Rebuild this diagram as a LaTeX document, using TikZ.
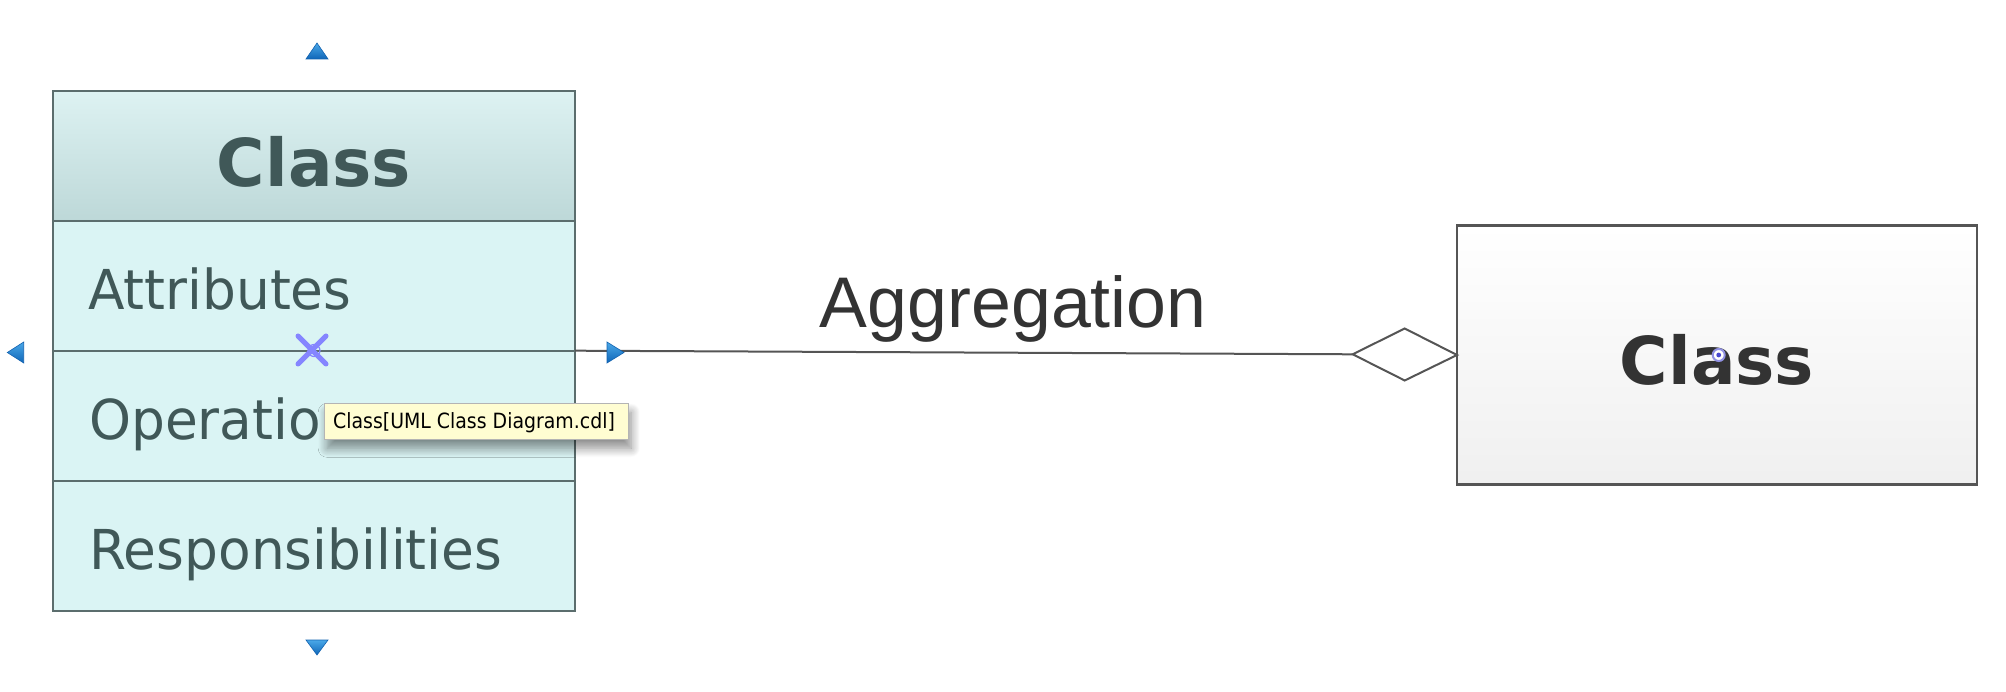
\documentclass[tikz,border=0pt]{standalone}
\usepackage{fontspec}
\usetikzlibrary{shadows.blur}
\newfontfamily\dvfont{DejaVu Sans}
\newfontfamily\itemfont[FakeStretch=0.97]{DejaVu Sans}
\newfontfamily\tipfont[FakeStretch=0.9]{DejaVu Sans}
\newfontfamily\arialfont{Liberation Sans}
\definecolor{boxline}{HTML}{5B6D6D}
\definecolor{bodyfill}{HTML}{DAF4F4}
\definecolor{headtop}{HTML}{DDF2F2}
\definecolor{headbot}{HTML}{BDD8D8}
\definecolor{slatetext}{HTML}{405858}
\definecolor{darktext}{HTML}{333333}
\definecolor{greyline}{HTML}{555555}
\definecolor{tipfill}{HTML}{FFFDD2}
\definecolor{tipline}{HTML}{B4B4B4}
\definecolor{handletop}{HTML}{4AA8E8}
\definecolor{handlebot}{HTML}{0F66B8}
\definecolor{handleline}{HTML}{1262B0}
\definecolor{markblue}{HTML}{8585FF}
\definecolor{ringblue}{HTML}{4848D0}
\tikzset{
  sect/.style={draw=boxline, line width=2pt, fill=bodyfill, minimum width=522pt,
    minimum height=130pt, inner sep=0pt, outer sep=0pt},
  headsect/.style={sect, top color=headtop, bottom color=headbot, minimum height=129.7pt},
  itemtext/.style={anchor=base west, inner sep=0pt, text=slatetext,
    font=\itemfont\fontsize{55}{60}\selectfont},
  titletext/.style={anchor=base, inner sep=0pt,
    font=\dvfont\bfseries\fontsize{66}{72}\selectfont},
  classbox/.style={draw=greyline, line width=2.2pt, top color=white, bottom color=black!6,
    minimum width=520pt, minimum height=259pt, inner sep=0pt, outer sep=0pt},
  conn/.style={draw=greyline, line width=2pt},
  handle/.style={top color=handletop, bottom color=handlebot, draw=handleline, line width=0.6pt},
  tooltip/.style={draw=tipline, line width=1.3pt, fill=tipfill, minimum width=304pt,
    minimum height=36pt, inner sep=0pt, outer sep=0pt,
    blur shadow={shadow xshift=3pt, shadow yshift=-9pt, shadow blur radius=9pt,
      shadow blur steps=12, shadow opacity=45}},
}
\begin{document}
\begin{tikzpicture}[x=1pt,y=-1pt]
\useasboundingbox (0,0) rectangle (2006,692);
% left class
\node[headsect] (hdr) at (314,155.85) {};
\node[sect] (attr) at (314,285.7) {};
\node[sect] (ops) at (314,415.7) {};
\node[sect] (resp) at (314,545.7) {};
\node[titletext, text=slatetext] (hdrtxt) at (314,186.7) {Class};
\node[itemtext] (attrtxt) at (88,309.3) {Attributes};
\node[itemtext] (opstxt) at (89,439.3) {Operatio};
\node[itemtext] (resptxt) at (89,569.3) {Responsibilities};
% right class
\node[classbox] (cls2) at (1717,355) {};
\node[titletext, text=darktext] (cls2txt) at (1717,385) {Class};
% connector with aggregation diamond
\coordinate (dl) at (1352.7,354.3);
\coordinate (dt) at (1404.7,328.5);
\coordinate (db) at (1404.7,380.5);
\draw[conn] (attr.south east) -- (dl);
\draw[conn, fill=white, line join=miter] (dl) -- (dt) -- (cls2.west) -- (db) -- cycle;
\node[anchor=base, inner sep=0pt, text=darktext, font=\arialfont\fontsize{71.7}{76}\selectfont]
  (agg) at (1013.3,327.3) {Aggregation};
% selection handles
\shade[handle] (317,43) -- (328,59) -- (306,59) -- cycle;
\shade[handle] (317,655) -- (328,640) -- (306,640) -- cycle;
\shade[handle] (7.3,352.5) -- (23.7,342) -- (23.7,363) -- cycle;
\shade[handle] (624,352.5) -- (607,342) -- (607,363) -- cycle;
% connection marker on left class
\draw[markblue, line width=1.2pt] (314,350.5) circle (6);
\draw[markblue, line width=5pt, line cap=round] (298,336) -- (326,364) (326,336) -- (298,364);
% connection marker on right class
\draw[ringblue!60, line width=2pt, fill=white] (1718.7,355) circle (6);
\fill[ringblue] (1718.7,355) circle (2.4);
% tooltip
\node[tooltip] (tip) at (476.2,421.3) {};
\node[anchor=base west, inner sep=0pt, text=black, font=\tipfont\fontsize{21}{24}\selectfont]
  (tiptxt) at (333,428.3) {Class[UML Class Diagram.cdl]};
\end{tikzpicture}
\end{document}
